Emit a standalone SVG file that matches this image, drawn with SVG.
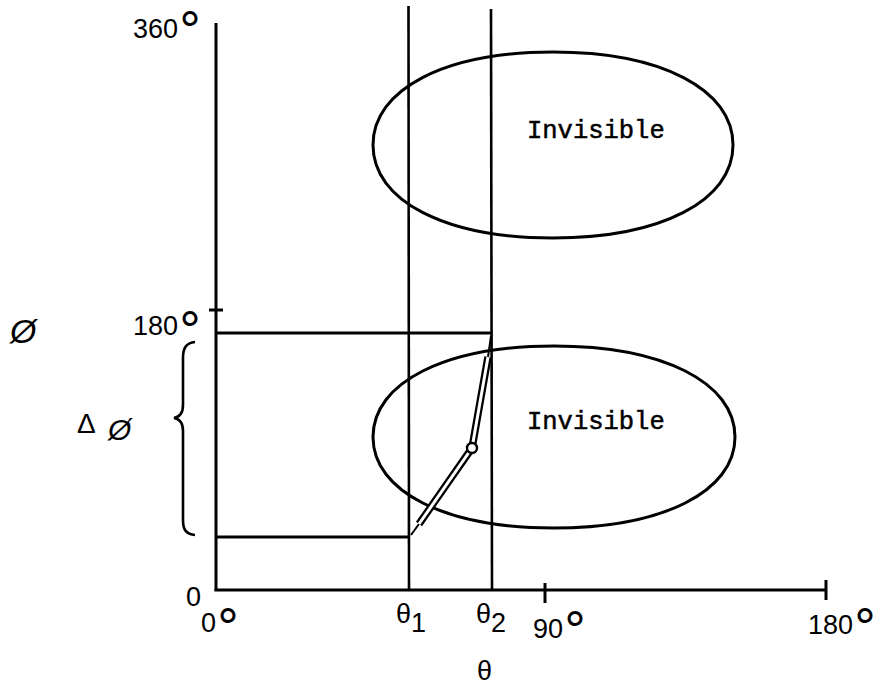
<svg xmlns="http://www.w3.org/2000/svg" width="879" height="685" viewBox="0 0 879 685">
<style>
.ln{stroke:#000;stroke-width:3;fill:none;stroke-linecap:butt}
.thin{stroke:#000;stroke-width:2.6;fill:none}
.num{font-family:"Liberation Sans","DejaVu Sans",sans-serif;font-size:27px;fill:#000}
.deg{font-family:"DejaVu Sans",sans-serif;font-size:48px}
.lab{font-family:"Liberation Mono","DejaVu Sans Mono",monospace;font-size:25.5px;fill:#000;stroke:#000;stroke-width:0.5}
.sym{font-family:"Liberation Sans","DejaVu Sans",sans-serif;fill:#000}
</style>
<rect width="879" height="685" fill="#fff"/>
<g id="axes">
<line class="ln" x1="216" y1="23" x2="216" y2="591"/>
<line class="ln" x1="214.5" y1="590" x2="826" y2="590"/>
<line class="ln" x1="826" y1="580" x2="826" y2="600"/>
<line class="ln" x1="545" y1="583" x2="545" y2="603"/>
<line class="ln" x1="209" y1="310" x2="223" y2="310"/>
<line class="ln" x1="216" y1="333" x2="491" y2="333"/>
<line class="ln" x1="216" y1="537" x2="409" y2="537"/>
<line class="thin" x1="408.5" y1="6" x2="409" y2="590"/>
<line class="thin" x1="491" y1="9" x2="492" y2="590"/>
</g>
<g id="labels">
<text class="num" x="133" y="38">360<tspan class="deg" dy="9">°</tspan></text>
<text class="num" x="133" y="335">180<tspan class="deg" dy="12">°</tspan></text>
<text class="num" x="186" y="606" font-size="25">0</text>
<text class="num" x="201" y="632" font-size="25">0<tspan class="deg" dy="12">°</tspan></text>
<text class="num" x="533" y="638">90<tspan class="deg" dy="9">°</tspan></text>
<text class="num" x="808" y="634">180<tspan class="deg" dy="10">°</tspan></text>
<text class="num" x="396" y="623" font-size="25">θ<tspan dy="9">1</tspan></text>
<text class="num" x="476" y="623" font-size="25">θ<tspan dy="9">2</tspan></text>
<text class="num" x="477" y="680" font-size="24">θ</text>
<text class="sym" x="10" y="343" font-size="34" font-style="italic">Ø</text>
<text class="sym" x="77" y="433" font-size="28">Δ</text>
<text class="sym" x="108" y="440" font-size="30" font-style="italic">Ø</text>
<path class="thin" d="M195,342 C186,343 183,348 183,358 L183,405 C183,413 180,417 174,418 C180,419 183,423 183,431 L183,520 C183,530 186,534 195,535"/>
</g>
<g id="invisible-upper">
<path class="ln" d="M733,145 C733,200.8 661,238 553,238 C445,238 373,200.8 373,145 C373,89.2 445,52 553,52 C661,52 733,89.2 733,145Z"/>
<text class="lab" x="527" y="138">Invisible</text>
</g>
<g id="invisible-lower">
<path class="ln" d="M735,437 C735,491.6 662.6,528 554,528 C445.4,528 373,491.6 373,437 C373,382.4 445.4,346 554,346 C662.6,346 735,382.4 735,437Z"/>
<text class="lab" x="527" y="429">Invisible</text>
</g>
<g id="connectors">
<polyline points="411,535 419,524" stroke="#000" stroke-width="2" fill="none"/>
<polyline points="488,357 491,336" stroke="#000" stroke-width="2" fill="none"/>
<polyline points="419,524 472,448 488,357" stroke="#000" stroke-width="7.5" fill="none" stroke-linejoin="round"/>
<polyline points="419,524 472,448 488,357" stroke="#fff" stroke-width="3" fill="none" stroke-linejoin="round"/>
<circle cx="472" cy="448" r="5" fill="#fff" stroke="#000" stroke-width="2.4"/>
</g>
</svg>
